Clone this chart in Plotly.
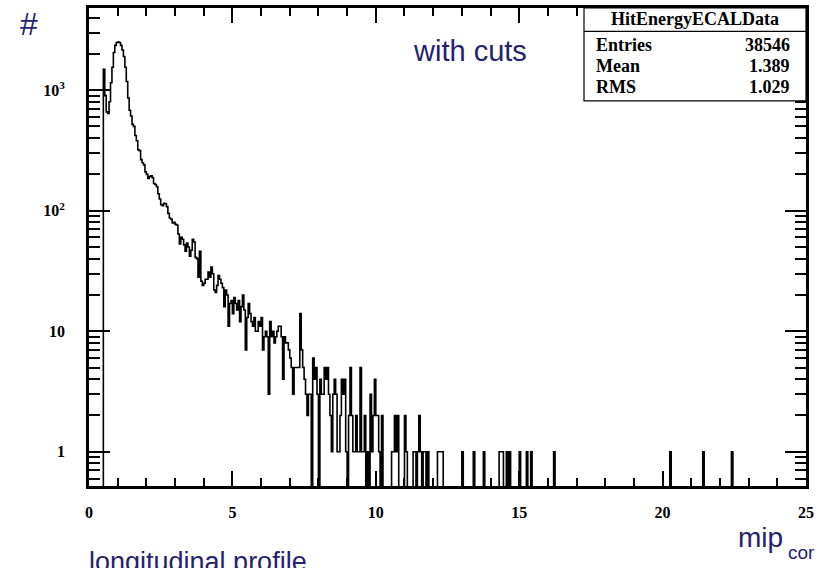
import numpy as np
import plotly.graph_objects as go

# ---- histogram definition: 500 bins of 0.05 mip from 0 to 25 ----
BIN_WIDTH = 0.05
N_BINS = 500
X_MIN, X_MAX = 0.0, 25.0

# bin contents, bins 10..139 (0.50 - 7.00 mip)
counts_peak = [
    1490, 900, 660, 640, 800, 1150, 1550, 2050, 2350, 2480,
    2500, 2480, 2350, 2150, 1900, 1550, 1180, 860, 680, 610,
    520, 500, 420, 380, 320, 315, 265, 250, 240, 210,
    200, 185, 192, 195, 188, 168, 165, 158, 138, 125,
    112, 110, 115, 114, 108, 95, 87, 85, 79, 80,
    77, 76, 64, 53, 60, 58, 52, 46, 54, 50,
    42, 47, 58, 55, 41, 40, 28, 46, 26, 24,
    25, 27, 27, 31, 28, 34, 30, 22, 21, 24,
    29, 27, 25, 23, 16, 22, 20, 11, 17, 18,
    14, 19, 17, 15, 18, 12, 16, 20, 15, 7,
    13, 17, 14, 12, 11, 13, 10, 10, 12, 11,
    13, 7, 9, 10, 9, 3, 12, 9, 10, 8,
    9, 10, 11, 11, 9, 4, 9, 8, 8, 7,
]
PEAK_FIRST_BIN = 10

# bin contents, bins 140..249 (7.00 - 12.50 mip)
counts_tail = [
    6, 5, 3, 5, 5, 5, 5, 14, 7, 5,
    4, 3, 2, 3, 3, 0, 6, 4, 5, 3,
    0, 4, 3, 3, 5, 4, 5, 3, 2, 1,
    3, 4, 3, 1, 1, 2, 4, 3, 4, 1,
    0, 2, 5, 2, 1, 1, 2, 1, 1, 5,
    1, 1, 2, 0, 1, 0, 3, 1, 2, 4,
    2, 2, 1, 0, 2, 0, 0, 0, 0, 0,
    0, 1, 1, 2, 1, 2, 0, 0, 0, 0,
    2, 1, 0, 0, 0, 0, 1, 1, 0, 1,
    2, 1, 0, 1, 1, 0, 1, 0, 0, 0,
    0, 0, 0, 1, 1, 1, 1, 0, 0, 0,
]
TAIL_FIRST_BIN = 140

# isolated single entries above 12.5 mip
sparse_bins = [260, 268, 275, 286, 287, 288, 291, 293, 300, 305, 308, 324, 405, 428, 448]
sparse_counts = [1, 1, 1, 1, 1, 1, 1, 1, 1, 1, 1, 1, 1, 1, 1]

x_tick_vals = [0, 5, 10, 15, 20, 25]
x_tick_text = ["0", "5", "10", "15", "20", "25"]
y_tick_vals = [1, 10, 100, 1000]
y_tick_text = ["1", "10", "10<sup>2</sup>", "10<sup>3</sup>"]

stats_title = "HitEnergyECALData"
stats_names = ["Entries", "Mean", "RMS"]
stats_values = ["38546", "1.389", "1.029"]

# ---- assemble the histogram ----
counts = np.zeros(N_BINS)
counts[PEAK_FIRST_BIN:PEAK_FIRST_BIN + len(counts_peak)] = counts_peak
counts[TAIL_FIRST_BIN:TAIL_FIRST_BIN + len(counts_tail)] = counts_tail
counts[sparse_bins] = sparse_counts

edges = X_MIN + BIN_WIDTH * np.arange(N_BINS + 1)
# empty bins sit below the visible log range, so the outline drops to the frame
EMPTY_LEVEL = 0.1
levels = np.where(counts > 0, counts, EMPTY_LEVEL)
step_y = np.append(levels, levels[-1])

# ---- page geometry (pixels) ----
W, H = 824, 568
L, R, T, B = 89.0, 806.0, 5.5, 486.5
Y_LO, Y_HI = 0.52, 4800.0


def fx(px):
    return (px - L) / (R - L)


def fy(py):
    return (B - py) / (B - T)


NAVY = "#262170"
SERIF = "Liberation Serif"
SANS = "Liberation Sans"

fig = go.Figure()
fig.add_trace(go.Scatter(
    x=edges, y=step_y, mode="lines",
    line=dict(color="black", width=1.6, shape="hv"),
    hoverinfo="skip", showlegend=False,
))

y_minor = [m * 10.0 ** e for e in range(-1, 4) for m in range(2, 10)]
y_minor = [v for v in y_minor if Y_LO < v < Y_HI and v not in y_tick_vals]

fig.update_layout(
    width=W, height=H, autosize=False,
    margin=dict(l=L, r=W - R, t=T, b=H - B, pad=0),
    paper_bgcolor="white", plot_bgcolor="white",
    showlegend=False,
    xaxis=dict(
        range=[X_MIN, X_MAX], showgrid=False, zeroline=False,
        showline=True, linewidth=2.8, linecolor="black", mirror="ticks",
        ticks="inside", ticklen=15, tickwidth=1.5, tickcolor="black",
        tickmode="array", tickvals=x_tick_vals, ticktext=x_tick_text,
        tickfont=dict(family=SERIF, size=16, color="black", weight="bold"),
        ticklabelstandoff=10,
        minor=dict(ticks="inside", ticklen=8, tickwidth=1.5, tickcolor="black", dtick=1, showgrid=False),
    ),
    yaxis=dict(
        type="log", range=[np.log10(Y_LO), np.log10(Y_HI)],
        showgrid=False, zeroline=False,
        showline=True, linewidth=2.8, linecolor="black", mirror="ticks",
        ticks="inside", ticklen=21, tickwidth=1.5, tickcolor="black",
        tickmode="array", tickvals=y_tick_vals, ticktext=y_tick_text,
        tickfont=dict(family=SERIF, size=16, color="black", weight="bold"),
        ticklabelstandoff=18,
        minor=dict(ticks="inside", ticklen=11, tickwidth=1.5, tickcolor="black",
                   tickmode="array", tickvals=y_minor, showgrid=False),
    ),
)

# ---- statistics box ----
box_l, box_r, box_t, box_b, box_sep = 584, 806, 5.5, 99, 29
fig.add_shape(type="rect", xref="paper", yref="paper",
              x0=fx(box_l), x1=fx(box_r), y0=fy(box_b), y1=fy(box_t),
              line=dict(color="black", width=1.2), fillcolor="white", layer="above")
fig.add_shape(type="line", xref="paper", yref="paper",
              x0=fx(box_l), x1=fx(box_r), y0=fy(box_sep), y1=fy(box_sep),
              line=dict(color="black", width=1.2), layer="above")

stat_font = dict(family=SERIF, size=18, color="black", weight="bold")
fig.add_annotation(text=stats_title, xref="paper", yref="paper",
                   x=fx(695), y=fy(17), xanchor="center", yanchor="middle",
                   showarrow=False, font=stat_font)
for row_y, name, val in zip([43, 64, 85], stats_names, stats_values):
    fig.add_annotation(text=name, xref="paper", yref="paper",
                       x=fx(594), y=fy(row_y), xanchor="left", yanchor="middle",
                       showarrow=False, font=stat_font)
    fig.add_annotation(text=val, xref="paper", yref="paper",
                       x=fx(792), y=fy(row_y), xanchor="right", yanchor="middle",
                       showarrow=False, font=stat_font)

# ---- free-standing labels ----
fig.add_annotation(text="with cuts", xref="paper", yref="paper",
                   x=fx(470), y=fy(49), xanchor="center", yanchor="middle",
                   showarrow=False, font=dict(family=SANS, size=29, color=NAVY))
fig.add_annotation(text="#", xref="paper", yref="paper",
                   x=fx(29), y=fy(22), xanchor="center", yanchor="middle",
                   showarrow=False, font=dict(family=SANS, size=32, color=NAVY))
fig.add_annotation(text="mip", xref="paper", yref="paper",
                   x=fx(736), y=fy(538), xanchor="left", yanchor="middle",
                   showarrow=False, font=dict(family=SANS, size=28, color=NAVY))
fig.add_annotation(text="cor", xref="paper", yref="paper",
                   x=fx(786), y=fy(553), xanchor="left", yanchor="middle",
                   showarrow=False, font=dict(family=SANS, size=19, color=NAVY))
fig.add_annotation(text="longitudinal profile", xref="paper", yref="paper",
                   x=fx(87), y=fy(563), xanchor="left", yanchor="middle",
                   showarrow=False, font=dict(family=SANS, size=27, color=NAVY))

fig.write_html("out.html")
